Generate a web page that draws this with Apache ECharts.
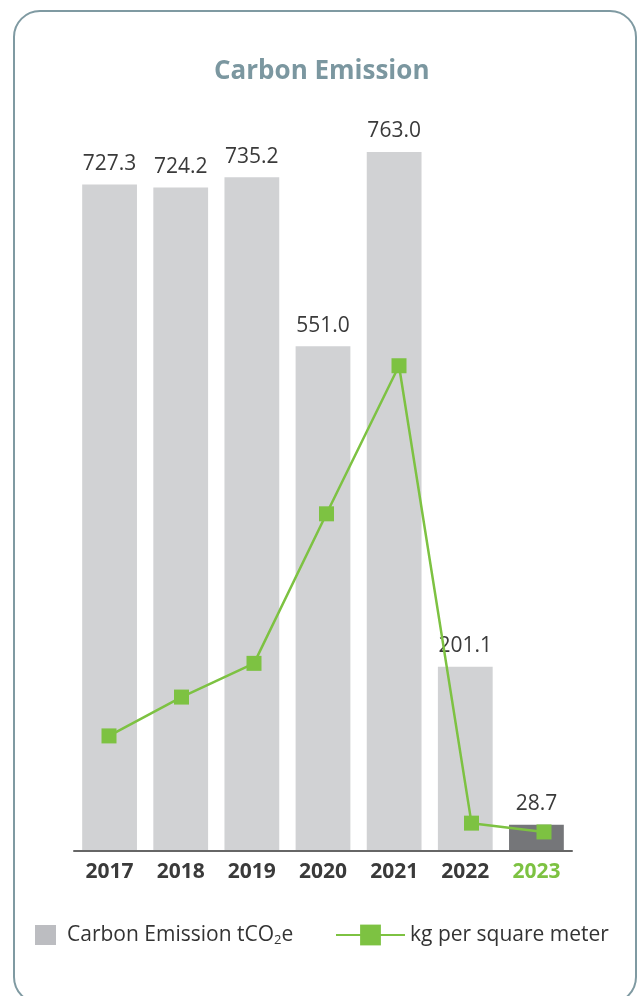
<!DOCTYPE html>
<html>
<head>
<meta charset="utf-8">
<script src="https://cdn.jsdelivr.net/npm/echarts@6/dist/echarts.min.js"></script>
<style>
html,body{margin:0;padding:0;background:#fff;}
#chart{width:637px;height:996px;}
</style>
</head>
<body>
<div id="chart"></div>
<script>
var years = ['2017','2018','2019','2020','2021','2022','2023'];
var emissions = [727.3, 724.2, 735.2, 551.0, 763.0, 201.1, 28.7];
var perSqm = [15.7, 21.0, 25.6, 46.0, 66.2, 3.8, 2.6];
var highlightYear = '2023';

var GREEN = '#7dc242';
var BAR = '#d1d2d4';
var BAR_LAST = '#757679';
var FONT = 'Open Sans';

var chart = echarts.init(document.getElementById('chart'));

var xData = years.map(function (y) {
  return y === highlightYear ? { value: y, textStyle: { color: GREEN } } : y;
});
var barData = emissions.map(function (v, i) {
  return years[i] === highlightYear ? { value: v, itemStyle: { color: BAR_LAST } } : v;
});

chart.setOption({
  animation: false,
  textStyle: { fontFamily: FONT },
  graphic: [{
    type: 'rect',
    shape: { x: 14, y: 11, width: 622, height: 992, r: 26 },
    style: { fill: 'none', stroke: '#7f9aa2', lineWidth: 2 },
    z: -10
  }],
  title: {
    text: 'Carbon Emission',
    left: 214,
    top: 59,
    padding: 0,
    textStyle: { fontFamily: FONT, fontSize: 26, fontWeight: 'bold', color: '#7b97a0' }
  },
  legend: [{
    data: [{ name: 'Carbon Emission tCO2e', itemStyle: { color: '#bcbdc1' } }],
    left: 35,
    top: 923,
    padding: 0,
    itemWidth: 21,
    itemHeight: 20,
    icon: 'rect',
    formatter: function () { return 'Carbon Emission tCO{s|2}e'; },
    textStyle: {
      fontFamily: FONT, fontSize: 21, color: '#333', padding: [0, 0, 0, 6], lineHeight: 24,
      rich: { s: { fontFamily: FONT, fontSize: 13, lineHeight: 12, verticalAlign: 'bottom', color: '#333' } }
    }
  }, {
    data: ['kg per square meter'],
    left: 335,
    top: 920,
    padding: 0,
    itemWidth: 69,
    itemHeight: 26,
    textStyle: { fontFamily: FONT, fontSize: 21, color: '#333', lineHeight: 30 }
  }],
  grid: [
    { left: 74, width: 498, top: 118, bottom: 145 },
    { left: 72.75, width: 507.5, top: 118, bottom: 145 }
  ],
  xAxis: [{
    type: 'category',
    gridIndex: 0,
    data: xData,
    z: 5,
    axisLine: { lineStyle: { color: '#666', width: 2 } },
    axisTick: { show: false },
    axisLabel: { margin: 11, fontFamily: FONT, fontSize: 21, fontWeight: 'bold', color: '#3a3a3a', interval: 0 }
  }, {
    type: 'category',
    gridIndex: 1,
    data: years,
    show: false
  }],
  yAxis: [{
    type: 'value', gridIndex: 0, min: 0, max: 800, show: false, splitLine: { show: false }
  }, {
    type: 'value', gridIndex: 1, min: 0, max: 100, show: false, splitLine: { show: false }
  }],
  series: [{
    name: 'Carbon Emission tCO2e',
    type: 'bar',
    xAxisIndex: 0,
    yAxisIndex: 0,
    data: barData,
    barCategoryGap: '23%',
    itemStyle: { color: BAR },
    label: {
      show: true,
      position: 'top',
      distance: 10,
      fontFamily: FONT,
      fontSize: 21,
      color: '#3a3a3a',
      formatter: function (p) { return p.value.toFixed(1); }
    }
  }, {
    name: 'kg per square meter',
    type: 'line',
    xAxisIndex: 1,
    yAxisIndex: 1,
    data: perSqm,
    symbol: 'rect',
    symbolSize: 15,
    itemStyle: { color: GREEN },
    lineStyle: { color: GREEN, width: 2.5 },
    z: 10
  }]
});
</script>
</body>
</html>
